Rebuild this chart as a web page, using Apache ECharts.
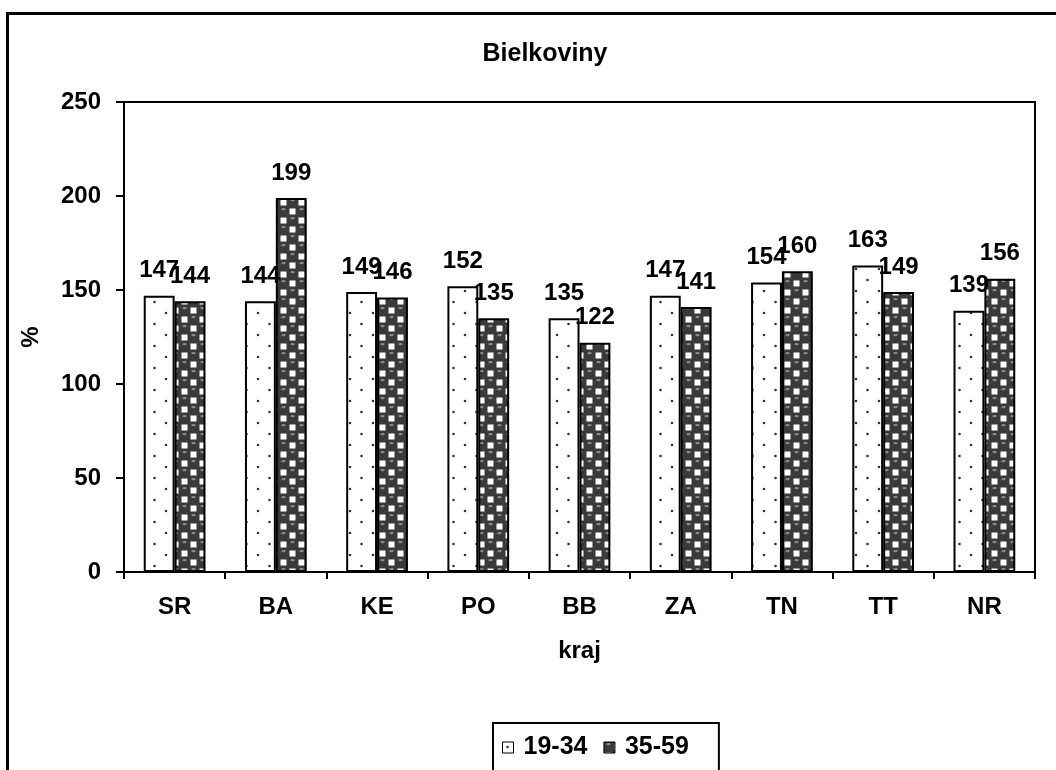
<!DOCTYPE html>
<html>
<head>
<meta charset="utf-8">
<title>Bielkoviny</title>
<script src="https://cdn.jsdelivr.net/npm/echarts@6/dist/echarts.min.js"></script>
<style>
  html, body { margin: 0; padding: 0; background: #ffffff; }
  #chart { width: 1056px; height: 770px; }
</style>
</head>
<body>
<div id="chart"></div>
<script>
// Regions (kraj) and protein intake (% of recommended) for two age groups
const categories = ['SR', 'BA', 'KE', 'PO', 'BB', 'ZA', 'TN', 'TT', 'NR'];
const seriesNames = ['19-34', '35-59'];
const age19to34 = [147, 144, 149, 152, 135, 147, 154, 163, 139];
const age35to59 = [144, 199, 146, 135, 122, 141, 160, 149, 156];
const yTicks = { min: 0, max: 250, step: 50 };

const FONT = 'Arial, "Liberation Sans", Helvetica, sans-serif';

// Light fill: white with a sparse staggered dot grid
function dotPattern() {
  const c = document.createElement('canvas');
  c.width = 23; c.height = 22;
  const g = c.getContext('2d');
  g.fillStyle = '#ffffff';
  g.fillRect(0, 0, c.width, c.height);
  g.fillStyle = '#333333';
  [[5, 5], [16.5, 16]].forEach(([x, y]) => {
    g.beginPath(); g.arc(x, y, 1.3, 0, Math.PI * 2); g.fill();
  });
  return c;
}

// Dark fill: shaded balls in a checkerboard, small white squares between them
function ballPattern() {
  const s = 9;
  const c = document.createElement('canvas');
  c.width = s * 2; c.height = s * 2;
  const g = c.getContext('2d');
  g.fillStyle = '#3a3a3a';
  g.fillRect(0, 0, c.width, c.height);
  const balls = [], gaps = [];
  for (let i = -1; i <= 2; i++) {
    for (let j = -1; j <= 2; j++) {
      const p = [i * s + s / 2, j * s + s / 2];
      ((i + j) % 2 === 0 ? balls : gaps).push(p);
    }
  }
  g.fillStyle = '#ffffff';
  gaps.forEach(([x, y]) => g.fillRect(x - 3, y - 3, 6, 6));
  g.fillStyle = '#8c8c8c';
  balls.forEach(([x, y]) => {
    g.beginPath(); g.ellipse(x, y - 2.4, 2.2, 1.2, 0, 0, Math.PI * 2); g.fill();
  });
  return c;
}

const fills = [
  { image: dotPattern(), repeat: 'repeat' },
  { image: ballPattern(), repeat: 'repeat' }
];

const labelStyle = {
  show: true,
  position: 'top',
  distance: 13,
  formatter: '{c}',
  color: '#000000',
  fontFamily: FONT,
  fontWeight: 'bold',
  fontSize: 24
};

const chart = echarts.init(document.getElementById('chart'), null, { renderer: 'canvas' });

chart.setOption({
  backgroundColor: '#ffffff',
  animation: false,
  title: {
    text: 'Bielkoviny',
    left: 540,
    top: 37,
    textAlign: 'center',
    textStyle: { fontFamily: FONT, fontWeight: 'bold', fontSize: 25, color: '#000000' }
  },
  graphic: [{
    type: 'rect',
    shape: { x: 7.5, y: 13.5, width: 1080, height: 800 },
    style: { fill: null, stroke: '#000000', lineWidth: 3 },
    silent: true,
    z: -1
  }],
  legend: {
    left: 493,
    top: 723,
    orient: 'horizontal',
    icon: 'rect',
    itemWidth: 11,
    itemHeight: 11,
    itemGap: 16,
    padding: [12, 30, 20, 9],
    borderColor: '#000000',
    borderWidth: 2,
    data: seriesNames,
    itemStyle: { borderColor: '#000000', borderWidth: 1 },
    textStyle: { fontFamily: FONT, fontWeight: 'bold', fontSize: 25, color: '#000000', padding: [0, 0, 0, 5] }
  },
  grid: {
    left: 124,
    right: 21,
    top: 102,
    bottom: 198,
    show: true,
    borderColor: '#000000',
    borderWidth: 2,
    backgroundColor: '#ffffff'
  },
  xAxis: {
    type: 'category',
    data: categories,
    name: 'kraj',
    nameLocation: 'middle',
    nameGap: 67,
    nameTextStyle: { fontFamily: FONT, fontWeight: 'bold', fontSize: 24, color: '#000000' },
    axisLine: { lineStyle: { color: '#000000', width: 2 } },
    axisTick: { show: true, length: 7, lineStyle: { color: '#000000', width: 2 }, alignWithLabel: false },
    axisLabel: { margin: 23, fontFamily: FONT, fontWeight: 'bold', fontSize: 24, color: '#000000' },
    splitLine: { show: false }
  },
  yAxis: {
    type: 'value',
    min: yTicks.min,
    max: yTicks.max,
    interval: yTicks.step,
    name: '%',
    nameLocation: 'middle',
    nameGap: 81,
    nameTextStyle: { fontFamily: FONT, fontWeight: 'bold', fontSize: 24, color: '#000000' },
    axisLine: { show: true, lineStyle: { color: '#000000', width: 2 } },
    axisTick: { show: true, length: 8, lineStyle: { color: '#000000', width: 2 } },
    axisLabel: { margin: 23, fontFamily: FONT, fontWeight: 'bold', fontSize: 24, color: '#000000' },
    splitLine: { show: false }
  },
  series: [
    {
      name: seriesNames[0],
      type: 'bar',
      data: age19to34,
      barGap: '0%',
      barCategoryGap: '39%',
      itemStyle: { color: fills[0], borderColor: '#000000', borderWidth: 2 },
      label: labelStyle
    },
    {
      name: seriesNames[1],
      type: 'bar',
      data: age35to59,
      itemStyle: { color: fills[1], borderColor: '#000000', borderWidth: 2 },
      label: labelStyle
    }
  ]
});
</script>
</body>
</html>
